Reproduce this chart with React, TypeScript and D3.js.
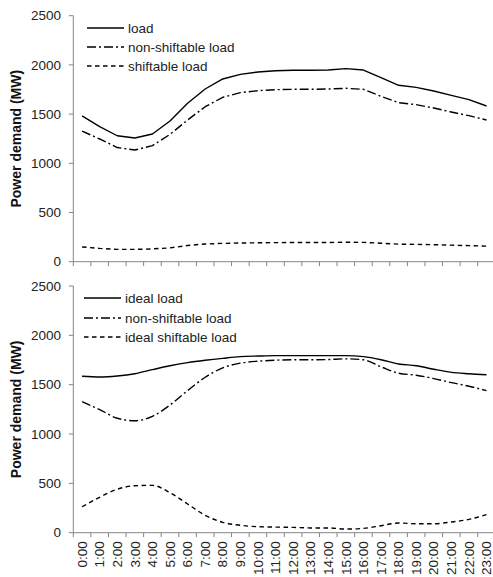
import React from "react";
import * as d3 from "d3";

const hours = ["0:00","1:00","2:00","3:00","4:00","5:00","6:00","7:00","8:00","9:00","10:00","11:00","12:00","13:00","14:00","15:00","16:00","17:00","18:00","19:00","20:00","21:00","22:00","23:00"];

const loadTop = [1481,1372,1280,1257,1298,1430,1610,1755,1857,1904,1928,1941,1945,1945,1948,1962,1948,1870,1793,1772,1735,1691,1647,1582];
const nonShiftable = [1328,1247,1160,1135,1179,1294,1440,1575,1671,1718,1738,1748,1752,1752,1755,1762,1752,1681,1616,1596,1562,1521,1484,1440];
const shiftableTop = [150,135,125,125,130,140,165,180,186,190,192,194,195,195,195,198,196,188,178,176,173,168,163,158];

const idealLoad = [1585,1578,1588,1611,1652,1692,1723,1747,1767,1784,1790,1794,1794,1794,1794,1794,1784,1753,1710,1692,1656,1625,1611,1601];
const idealShiftable = [263,359,440,476,480,405,291,176,105,75,61,57,54,48,48,37,44,71,98,91,91,108,135,183];

const yTicks = [0,500,1000,1500,2000,2500];

const W = 493, H = 577;
const FONT = "'Liberation Sans', Arial, sans-serif";
const AXIS = "#868686";

type Series = { name: string; values: number[]; dash: string };

const DASH_DOT = "9,3,2,3";
const DASHED = "4.5,3.5";

function Panel({ top, bottom, series, legendX, legendY, showLabels, smooth }: {
  top: number; bottom: number; series: Series[]; legendX: number; legendY: number[]; showLabels: boolean; smooth: boolean;
}) {
  const x = d3.scaleBand<string>().domain(hours).range([73.3, 495.3]).padding(0);
  const y = d3.scaleLinear().domain([0, 2500]).range([bottom, top]);
  const line = d3.line<number>()
    .x((_, i) => (x(hours[i]) as number) + x.bandwidth() / 2)
    .y(d => y(d))
    .curve(smooth ? d3.curveMonotoneX : d3.curveLinear);
  const left = 73.3;
  const boundaries = d3.range(hours.length + 1).map(k => left + k * x.bandwidth());
  return (
    <g>
      <line x1={left} x2={left} y1={y(2500)} y2={y(0)} stroke={AXIS} strokeWidth={1} />
      <line x1={left} x2={W + 5} y1={y(0)} y2={y(0)} stroke={AXIS} strokeWidth={1} />
      {yTicks.map(t => (
        <g key={t}>
          <line x1={left - 4.5} x2={left} y1={y(t)} y2={y(t)} stroke={AXIS} strokeWidth={1} />
          <text x={61} y={y(t)} dy="0.35em" textAnchor="end" fontFamily={FONT} fontSize={13.5} fill="#222">{t}</text>
        </g>
      ))}
      {boundaries.map((bx, i) => (
        <line key={i} x1={bx} x2={bx} y1={y(0)} y2={y(0) + 4.5} stroke={AXIS} strokeWidth={1} />
      ))}
      {showLabels && hours.map(h => (
        <text key={h} transform={`translate(${(x(h) as number) + x.bandwidth() / 2},${y(0) + 8.5}) rotate(-90)`}
          dy="0.35em" textAnchor="end" fontFamily={FONT} fontSize={13.5} fill="#222">{h}</text>
      ))}
      <text transform={`translate(16,${(y(0) + y(2500)) / 2}) rotate(-90)`} dy="0.35em" textAnchor="middle"
        fontFamily={FONT} fontSize={14} fontWeight="bold" fill="#111">Power demand (MW)</text>
      {series.map(s => (
        <path key={s.name} d={line(s.values) || ""} fill="none" stroke="#000" strokeWidth={1.4} strokeDasharray={s.dash} strokeLinejoin="round" />
      ))}
      {series.map((s, i) => (
        <g key={"lg" + s.name}>
          <line x1={legendX} x2={legendX + 37} y1={legendY[i]} y2={legendY[i]} stroke="#000" strokeWidth={1.4} strokeDasharray={s.dash} />
          <text x={legendX + 41} y={legendY[i]} dy="0.35em" fontFamily={FONT} fontSize={13.5} fill="#222">{s.name}</text>
        </g>
      ))}
    </g>
  );
}

export default function App() {
  const topSeries: Series[] = [
    { name: "load", values: loadTop, dash: "none" },
    { name: "non-shiftable load", values: nonShiftable, dash: DASH_DOT },
    { name: "shiftable load", values: shiftableTop, dash: DASHED },
  ];
  const bottomSeries: Series[] = [
    { name: "ideal load", values: idealLoad, dash: "none" },
    { name: "non-shiftable load", values: nonShiftable, dash: DASH_DOT },
    { name: "ideal shiftable load", values: idealShiftable, dash: DASHED },
  ];
  return (
    <svg width={W} height={H} style={{ position: "absolute", left: 0, top: 0, background: "#fff" }}>
      <rect width={W} height={H} fill="#fff" />
      <Panel top={15.7} bottom={261.7} series={topSeries} legendX={87} legendY={[28, 47, 66]} showLabels={false} smooth={false} />
      <Panel top={286} bottom={532.7} series={bottomSeries} legendX={84} legendY={[298, 318, 337]} showLabels={true} smooth={true} />
    </svg>
  );
}
